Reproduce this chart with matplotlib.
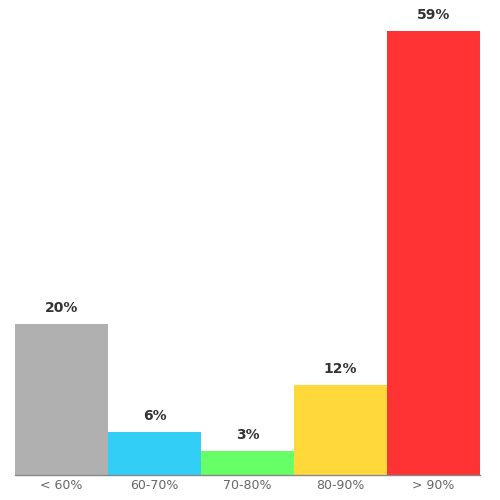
import matplotlib
matplotlib.use("Agg")
import matplotlib.pyplot as plt

categories = ["< 60%", "60-70%", "70-80%", "80-90%", "> 90%"]
values = [20, 5.7, 3.2, 12, 59]
labels = ["20%", "6%", "3%", "12%", "59%"]
colors = ["#b0b0b0", "#33cef5", "#66ff66", "#ffd83a", "#ff3333"]

fig = plt.figure(figsize=(5, 5), dpi=100)
ax = fig.add_axes([0.03, 0.05, 0.93, 0.888])
x = range(len(categories))
ax.bar(x, values, width=1.0, color=colors, edgecolor="none")
for xi, v, lab in zip(x, values, labels):
    ax.annotate(lab, (xi, v), xytext=(0, 6.5), textcoords="offset points",
                ha="center", va="bottom", fontsize=10, fontweight="bold",
                color="#333333", annotation_clip=False)
ax.set_xlim(-0.5, len(categories) - 0.5)
ax.set_ylim(0, 59)
ax.set_xticks(list(x))
ax.set_xticklabels(categories, fontsize=9, color="#666666")
ax.tick_params(axis="x", length=0, pad=3)
ax.set_yticks([])
for s in ["top", "right", "left"]:
    ax.spines[s].set_visible(False)
ax.spines["bottom"].set_color("#888888")
ax.spines["bottom"].set_linewidth(1)
fig.savefig("out.png", dpi=100)
